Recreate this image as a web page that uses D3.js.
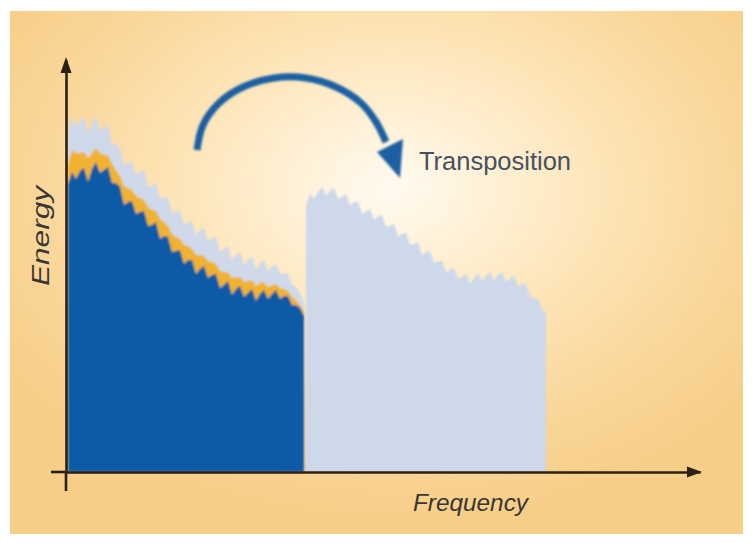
<!DOCTYPE html>
<html>
<head>
<meta charset="utf-8">
<script src="https://cdn.jsdelivr.net/npm/d3@7"></script>
<style>
  html, body { margin: 0; padding: 0; background: #ffffff; }
  svg { display: block; }
</style>
</head>
<body>
<svg id="chart" width="752" height="543"></svg>
<script>
// ---------- data (frequency / energy, arbitrary units) ----------
const freqSource = [2,6,10,14,18,22,26,30,34,38,42,46,50,54,58,62,66,70,74,78,82,86,90,94,98,102,106,110,114,118,122,126,130,134,138,142,146,150,154,158,162,166,170,174,178,182,186,190,194,198,202,206,210,214,218,222,226,230,234,238];
const energyOriginal = [288,300,293,301,304,290,303,310,299,302,305,289,289,285,267,270,271,258,260,261,246,247,250,233,236,235,220,221,222,208,212,212,198,203,206,194,197,198,184,187,191,177,183,186,175,179,183,171,178,182,173,178,182,173,176,176,167,167,164,156];
const energyYellowBand = [20,22,26,18,16,24,16,14,20,15,12,19,13,11,19,14,11,18,14,11,19,15,11,20,14,11,18,14,11,19,14,11,19,14,10,17,13,10,17,13,9,17,12,9,15,12,9,15,11,8,12,9,6,11,7,5,8,5,3,5];
const energyPaleBand = [30,34,26,32,36,24,30,32,22,28,30,20,26,28,20,26,28,22,26,30,20,24,28,20,25,28,20,26,28,20,24,28,20,25,28,20,24,27,19,23,26,18,22,25,17,21,24,16,20,22,16,19,20,14,16,17,12,13,12,8];

const freqTransposed = [240,244,248,252,256,260,264,268,272,276,280,284,288,292,296,300,304,308,312,316,320,324,328,332,336,340,344,348,352,356,360,364,368,372,376,380,384,388,392,396,400,404,408,412,416,420,424,428,432,436,440,444,448,452,456,460,464,468,472,476,480];
const energyTransposed = [266,279,273,280,285,276,281,284,273,275,278,266,270,270,258,260,263,252,256,257,245,246,248,235,238,239,227,228,230,217,220,221,209,210,212,199,202,204,193,195,199,188,194,199,191,196,201,191,197,200,190,193,197,185,188,188,175,174,173,162,160];

const layerKeys = ["original", "yellow", "pale"];
const layerColors = ["#0b5aa6", "#f0b232", "#cfd9ea"];
const transposedColor = "#cdd8ea";

// annotation arrow in data units (frequency, energy)
const arrowPath = [[131, 322], [137, 347], [153, 369], [177, 385], [208, 394], [240, 394], [270, 385], [295, 369], [310, 350], [320, 330]];
const arrowHead = [[311, 320], [337, 333], [334, 294]];

const labels = { x: "Frequency", y: "Energy", note: "Transposition" };

// ---------- drawing ----------
const svg = d3.select("#chart");
const defs = svg.append("defs");

const grad = defs.append("radialGradient").attr("id", "bg")
  .attr("cx", 0.52).attr("cy", 0.34).attr("r", 0.64).attr("fx", 0.52).attr("fy", 0.34);
[[0, "#fffaf0"], [0.18, "#fff2da"], [0.45, "#fde5b8"], [0.75, "#fad699"], [1, "#f7ce87"]]
  .forEach(([o, c]) => grad.append("stop").attr("offset", o).attr("stop-color", c));

const blur = defs.append("filter").attr("id", "soft").attr("x", "-5%").attr("y", "-5%").attr("width", "110%").attr("height", "110%");
blur.append("feGaussianBlur").attr("stdDeviation", 0.9);

svg.append("rect").attr("x", 10).attr("y", 11).attr("width", 733).attr("height", 523)
  .attr("fill", "url(#bg)");

const x = d3.scaleLinear().domain([0, 634]).range([66, 700]);
const y = d3.scaleLinear().domain([0, 412]).range([472, 60]);

const rows = freqSource.map((f, i) => ({
  freq: f, original: energyOriginal[i], yellow: energyYellowBand[i], pale: energyPaleBand[i]
}));
const stacked = d3.stack().keys(layerKeys)(rows);

const marks = svg.append("g").attr("filter", "url(#soft)");

// draw pale first, then yellow, then original on top
marks.selectAll("path.layer")
  .data(stacked.slice().reverse())
  .join("path")
  .attr("class", "layer")
  .attr("fill", d => layerColors[layerKeys.indexOf(d.key)])
  .attr("d", d => d3.area()
      .x(p => x(p.data.freq))
      .y0(y(0))
      .y1(p => y(p[1]))(d));

const trRows = freqTransposed.map((f, i) => ({ freq: f, e: energyTransposed[i] }));
marks.append("path")
  .datum(trRows)
  .attr("fill", transposedColor)
  .attr("d", d3.area().x(d => x(d.freq)).y0(y(0)).y1(d => y(d.e)));

// transposition arrow
const arrowColor = "#1c60a2";
const arrowG = svg.append("g").attr("filter", "url(#soft)");
arrowG.append("path")
  .attr("d", d3.line().curve(d3.curveCatmullRom).x(d => x(d[0])).y(d => y(d[1]))(arrowPath))
  .attr("fill", "none").attr("stroke", arrowColor).attr("stroke-width", 7).attr("stroke-linecap", "butt");
arrowG.append("path")
  .attr("d", d3.line().x(d => x(d[0])).y(d => y(d[1]))(arrowHead) + "Z")
  .attr("fill", arrowColor);

// axes
const axisColor = "#2a2016";
const xAxis = svg.append("g").attr("transform", `translate(0,${y(0)})`)
  .call(d3.axisBottom(x).ticks(0).tickSizeOuter(0));
const yAxis = svg.append("g").attr("transform", `translate(${x(0)},0)`)
  .call(d3.axisLeft(y).ticks(0).tickSizeOuter(0));
[xAxis, yAxis].forEach(g => g.select(".domain").attr("stroke", axisColor).attr("stroke-width", 2.6));

// axis extensions past origin
svg.append("line").attr("x1", x(0) - 15).attr("x2", x(0)).attr("y1", y(0)).attr("y2", y(0))
  .attr("stroke", axisColor).attr("stroke-width", 2.6);
svg.append("line").attr("x1", x(0)).attr("x2", x(0)).attr("y1", y(0)).attr("y2", y(0) + 19)
  .attr("stroke", axisColor).attr("stroke-width", 2.6);

// arrowheads
const xEnd = x.range()[1], yEnd = y.range()[1];
svg.append("path")
  .attr("d", `M${xEnd + 2},${y(0)} L${xEnd - 13},${y(0) - 5.5} L${xEnd - 13},${y(0) + 5.5} Z`)
  .attr("fill", axisColor);
svg.append("path")
  .attr("d", `M${x(0)},${yEnd - 3} L${x(0) - 5.5},${yEnd + 13} L${x(0) + 5.5},${yEnd + 13} Z`)
  .attr("fill", axisColor);

// labels
const font = "'Liberation Sans', Arial, sans-serif";
svg.append("text")
  .attr("x", 413).attr("y", 511)
  .attr("font-family", font).attr("font-size", 24).attr("font-style", "italic")
  .attr("textLength", 115).attr("lengthAdjust", "spacingAndGlyphs")
  .attr("fill", "#3a3633")
  .text(labels.x);

svg.append("text")
  .attr("transform", "translate(49,286) rotate(-90)")
  .attr("font-family", font).attr("font-size", 24).attr("font-style", "italic")
  .attr("textLength", 100).attr("lengthAdjust", "spacingAndGlyphs")
  .attr("fill", "#3a3633")
  .text(labels.y);

svg.append("text")
  .attr("x", 419).attr("y", 170)
  .attr("font-family", font).attr("font-size", 25)
  .attr("textLength", 152).attr("lengthAdjust", "spacingAndGlyphs")
  .attr("fill", "#465160")
  .text(labels.note);
</script>
</body>
</html>
